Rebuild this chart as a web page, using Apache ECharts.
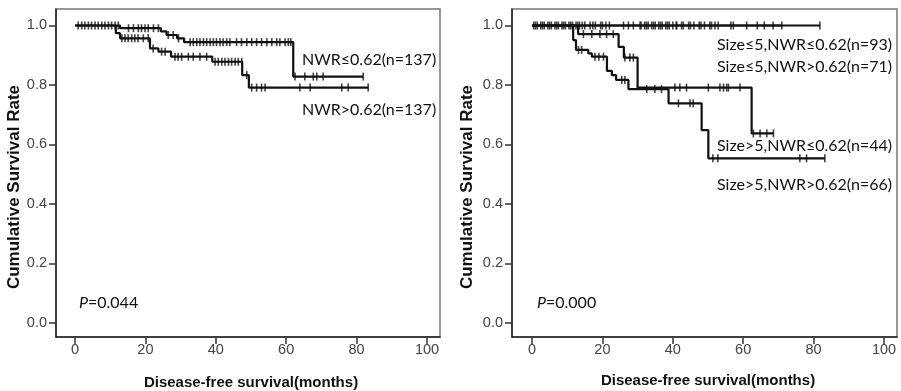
<!DOCTYPE html>
<html><head><meta charset="utf-8">
<script src="https://cdn.jsdelivr.net/npm/echarts@6/dist/echarts.min.js"></script>
<style>html,body{margin:0;padding:0;background:#fff}#c{width:901px;height:391px}</style>
</head><body><div id="c"></div>
<script>
const xTicks = [0, 20, 40, 60, 80, 100];
const yTicks = [0, 0.2, 0.4, 0.6, 0.8, 1.0];

// Left panel: NWR<=0.62 (n=137)
const lowNwrTime = [0, 12.8, 24.4, 26, 29, 31, 62, 81.9];
const lowNwrSurv = [1, 0.991, 0.98, 0.968, 0.957, 0.944, 0.828, 0.828];
const lowNwrCensor = [0.9, 1.9, 2.8, 3.8, 4.7, 5.7, 6.6, 7.6, 8.5, 9.5, 10.4, 11.4, 12.3,
  15.2, 16.6, 18, 18.9, 19.9, 20.8, 22.3, 23.7, 26.5, 27.9, 29.4,
  32.7, 33.6, 34.6, 35.5, 36.5, 37.4, 38.4, 39.3, 40.2, 41.2, 42.1, 43.1, 44, 45.9, 47.3, 48.8,
  50.2, 51.6, 53, 54.5, 55.9, 57.3, 58.2, 59.7, 60.6, 61.3, 62.5, 65.3, 67.7, 68.7, 70.5, 81.9];

// Left panel: NWR>0.62 (n=137)
const highNwrTime = [0, 11.6, 12.8, 21.3, 23.7, 27.3, 39, 47.5, 49.4, 83.3];
const highNwrSurv = [1, 0.974, 0.957, 0.923, 0.912, 0.895, 0.878, 0.833, 0.791, 0.791];
const highNwrCensor = [13.3, 14.2, 15.1, 16.1, 17, 17.9, 19.4, 20.8, 22.2, 24.6, 25.6,
  28.4, 29.3, 30.3, 32.2, 33.6, 35.5, 37.4, 39.8, 40.7, 41.7, 42.6, 43.6, 44.5, 45.5, 46.4, 47.4,
  48.8, 50.2, 51.6, 53, 54, 63.9, 66.8, 75.8, 77.6, 83.3];

// Right panel
const s5lowTime = [0, 81.8];
const s5lowSurv = [1, 1];
const s5lowCensor = [0.5, 1.5, 2.5, 3.5, 4.5, 5.5, 6.5, 7.5, 8.5, 9.5, 10.5, 11.5, 12.5, 13.5, 15, 16.5, 18, 19.5, 21,
  26, 28.8, 31, 32, 33, 34, 35, 36, 37, 38, 39, 40, 41, 43, 44.5, 46, 47.5, 49, 50.5, 52, 56.5, 61, 64, 68.5, 81.8];

const s5highTime = [0, 71];
const s5highSurv = [1, 1];
const s5highCensor = [1, 3, 5, 7, 9, 11, 13, 14.3, 17.3, 20, 22, 27.4, 30.7, 32.5, 34.5, 36.5, 38.5, 41.1,
  42.5, 45, 48, 51, 52.9, 57.2, 66, 71];

const b5lowTime = [0, 13.1, 24.6, 26.1, 30, 62.4, 68.6];
const b5lowSurv = [1, 0.971, 0.928, 0.892, 0.791, 0.637, 0.637];
const b5lowCensor = [14.6, 17, 19.3, 21.2, 23.1, 26.4, 27.8, 28.8, 40.6, 42, 43.9, 50.1, 53.4, 54.4, 55.3, 55.8, 59.1,
  62.9, 64.8, 66.7, 68.6];

const b5highTime = [0, 11.7, 12.5, 16, 17, 21.3, 22.7, 23.9, 27.4, 38.8, 48.2, 50.1, 83.2];
const b5highSurv = [1, 0.951, 0.918, 0.906, 0.895, 0.847, 0.833, 0.817, 0.786, 0.738, 0.648, 0.553, 0.553];
const b5highCensor = [13.2, 14.1, 17.9, 19, 20.3, 25.5, 26.4, 32.6, 34.9, 36.8, 41.6, 44.9, 45.8,
  51.4, 52.8, 76.1, 78, 83.2];

const leftLabels = ['NWR≤0.62(n=137)', 'NWR>0.62(n=137)'];
const rightLabels = ['Size≤5,NWR≤0.62(n=93)', 'Size≤5,NWR>0.62(n=71)', 'Size>5,NWR≤0.62(n=44)', 'Size>5,NWR>0.62(n=66)'];
const pValues = ['0.044', '0.000'];
const xTitle = 'Disease-free survival(months)';
const yTitle = 'Cumulative Survival Rate';

function survAt(times, surv, t) {
  let s = surv[0];
  for (let i = 0; i < times.length; i++) if (times[i] <= t) s = surv[i];
  return s;
}
function km(g, times, surv) {
  return { type: 'line', xAxisIndex: g, yAxisIndex: g, step: 'end', symbol: 'none', silent: true, z: 3,
    data: times.map((t, i) => [t, surv[i]]), lineStyle: { color: '#111', width: 2.2 } };
}
function cens(g, times, surv, cts) {
  return { type: 'scatter', xAxisIndex: g, yAxisIndex: g, symbol: 'rect', symbolSize: [1.6, 8], silent: true, z: 4,
    itemStyle: { color: '#111' }, data: cts.map(t => [t, survAt(times, surv, t)]) };
}
function xAx(g, min) {
  return { gridIndex: g, type: 'value', min: min, max: 103.7,
    axisLine: { onZero: false, lineStyle: { color: '#222', width: 1.5 } },
    axisTick: { customValues: xTicks, length: 7, lineStyle: { color: '#333', width: 1.5 } },
    axisLabel: { customValues: xTicks, color: '#444', fontSize: 14.5, fontFamily: 'Liberation Sans', margin: 5 },
    splitLine: { show: false } };
}
function yAx(g) {
  return { gridIndex: g, type: 'value', min: -0.048, max: 1.0555,
    axisLine: { show: true, onZero: false, lineStyle: { color: '#222', width: 1.5 } },
    axisTick: { show: true, customValues: yTicks, length: 7, lineStyle: { color: '#333', width: 1.5 } },
    axisLabel: { customValues: yTicks, color: '#444', fontSize: 14.5, fontFamily: 'Liberation Sans', margin: 9,
      formatter: v => v.toFixed(1) },
    splitLine: { show: false } };
}
function txt(x, y, text) {
  return { type: 'text', x: x, y: y, silent: true,
    style: { text: text, fontFamily: 'Lato', fontSize: 16, fill: '#111', align: 'left', verticalAlign: 'middle' } };
}
function title(x, y, text, size, rot) {
  return { type: 'text', x: x, y: y, rotation: rot || 0, silent: true,
    style: { text: text, fontFamily: 'Liberation Sans', fontWeight: 'bold', fontSize: size, fill: '#111', align: 'center', verticalAlign: 'middle' } };
}
function pText(x, y, val) {
  return { type: 'text', x: x, y: y, silent: true,
    style: { text: '{i|P}{n|=' + val + '}', verticalAlign: 'middle',
      rich: { i: { fontFamily: 'Lato', fontStyle: 'italic', fontSize: 16, fill: '#111' }, n: { fontFamily: 'Lato', fontSize: 16, fill: '#111' } } } };
}
const graphics = [
  title(14, 187, yTitle, 17, Math.PI / 2),
  title(467, 187, yTitle, 17, Math.PI / 2),
  title(251, 383, xTitle, 15),
  title(708, 381, xTitle, 15),
  txt(302, 60, leftLabels[0]),
  txt(302, 110, leftLabels[1]),
  txt(717, 45, rightLabels[0]),
  txt(717, 67, rightLabels[1]),
  txt(717, 146, rightLabels[2]),
  txt(717, 185, rightLabels[3]),
  pText(79, 303, pValues[0]),
  pText(537, 303, pValues[1])
];

const chart = echarts.init(document.getElementById('c'));
chart.setOption({
  animation: false,
  backgroundColor: '#fff',
  grid: [
    { left: 56, top: 9, width: 384, height: 328, show: true, borderColor: '#777', borderWidth: 1.5 },
    { left: 512, top: 9, width: 385, height: 328, show: true, borderColor: '#777', borderWidth: 1.5 }
  ],
  xAxis: [xAx(0, -5.4), xAx(1, -5.68)],
  yAxis: [yAx(0), yAx(1)],
  graphic: graphics,
  series: [
    km(0, lowNwrTime, lowNwrSurv), cens(0, lowNwrTime, lowNwrSurv, lowNwrCensor),
    km(0, highNwrTime, highNwrSurv), cens(0, highNwrTime, highNwrSurv, highNwrCensor),
    km(1, s5lowTime, s5lowSurv), cens(1, s5lowTime, s5lowSurv, s5lowCensor),
    km(1, s5highTime, s5highSurv), cens(1, s5highTime, s5highSurv, s5highCensor),
    km(1, b5lowTime, b5lowSurv), cens(1, b5lowTime, b5lowSurv, b5lowCensor),
    km(1, b5highTime, b5highSurv), cens(1, b5highTime, b5highSurv, b5highCensor)
  ]
});
</script></body></html>
